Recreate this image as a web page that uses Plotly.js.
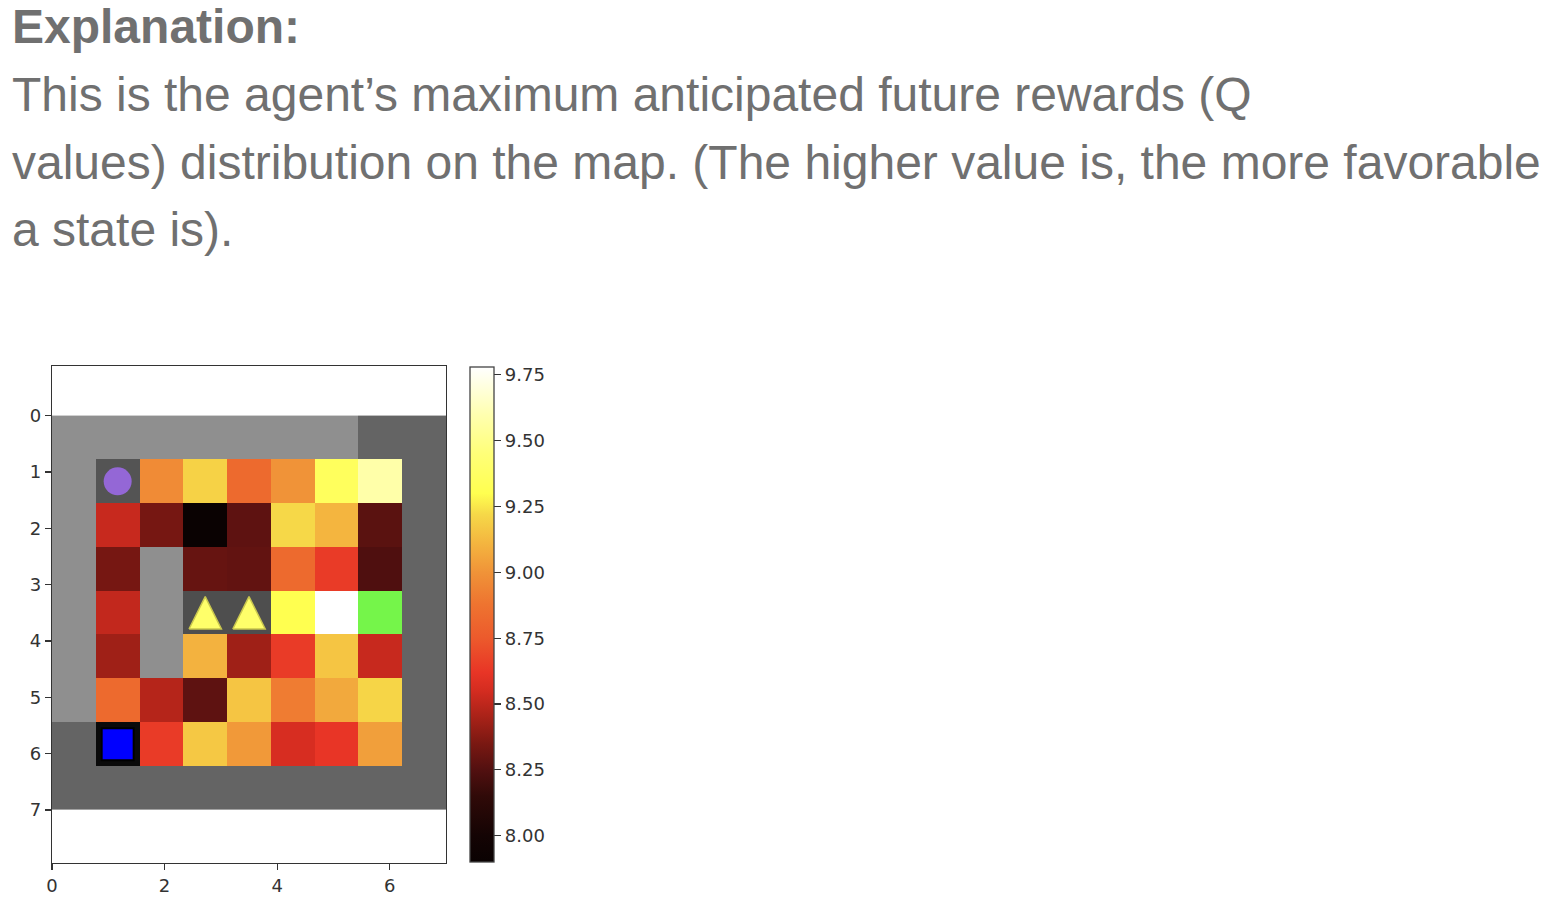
<!DOCTYPE html>
<html>
<head>
<meta charset="utf-8">
<script src="https://cdn.plot.ly/plotly-3.0.1.min.js"></script>
<style>
  html, body { margin: 0; padding: 0; background: #fff; }
  #gd { width: 1548px; height: 914px; }
</style>
</head>
<body>
<div id="gd"></div>
<script>
// map tiles, row by row: W light wall, D dark wall, A agent tile, T trap tile,
// G goal tile, B start tile, . = Q value cell
var tileRows = [
  "WWWWWWWDD",
  "WA......D",
  "W.......D",
  "W.W.....D",
  "W.WTT..GD",
  "W.W.....D",
  "W.......D",
  "DB......D",
  "DDDDDDDDD"
];

// max Q value per cell (null where a tile is drawn instead)
var qValues = [
  [null, null, null, null, null, null, null, null, null],
  [null, null, 8.97, 9.20, 8.83, 9.00, 9.35, 9.58, null],
  [null, 8.52, 8.34, 7.90, 8.28, 9.22, 9.11, 8.27, null],
  [null, 8.34, null, 8.30, 8.29, 8.83, 8.64, 8.24, null],
  [null, 8.51, null, null, null, 9.30, 9.78, null, null],
  [null, 8.43, null, 9.10, 8.43, 8.64, 9.16, 8.52, null],
  [null, 8.83, 8.48, 8.28, 9.16, 8.91, 9.07, 9.21, null],
  [null, null, 8.64, 9.17, 9.02, 8.56, 8.62, 9.04, null],
  [null, null, null, null, null, null, null, null, null]
];

// [row, col] of the objects drawn on top
var agentCells = [[1, 1]];
var trapCells = [[4, 3], [4, 4]];
var startCells = [[7, 1]];

var cbTicks = [8.00, 8.25, 8.50, 8.75, 9.00, 9.25, 9.50, 9.75];
var qMin = 7.90, qMax = 9.78;

// colour stops of the colour bar
var cbStopValues = [7.90, 8.00, 8.15, 8.25, 8.35, 8.45, 8.55, 8.62, 8.75, 8.88, 9.00, 9.12, 9.22, 9.30, 9.45, 9.60, 9.78];
var cbStopColors = ["#0a0202", "#140404", "#300a08", "#521010", "#7a1812", "#a82218", "#d42c20", "#e83526",
                    "#ec5a2c", "#ee7430", "#f09338", "#f4b840", "#f6d848", "#ffff50", "#ffff78", "#ffffb0", "#ffffff"];

var tileCode = { W: 1, D: 2, A: 3, T: 4, G: 5, B: 6 };
var tileColors = ["#8f8f8f", "#646464", "#545454", "#4e4e4e", "#75f54a", "#0a0a0a"];

var N = tileRows.length;
var EXTENT = 7;
var CELL = EXTENT / N;

var tileZ = tileRows.map(function (r) {
  return r.split("").map(function (ch) { return tileCode[ch] !== undefined ? tileCode[ch] : null; });
});

// discrete colour scale for tile codes 1..6
var tileScale = [];
tileColors.forEach(function (c, i) {
  var lo = i === 0 ? 0 : (i - 0.5) / (tileColors.length - 1);
  var hi = i === tileColors.length - 1 ? 1 : (i + 0.5) / (tileColors.length - 1);
  tileScale.push([lo, c]);
  tileScale.push([hi, c]);
});

var heatScale = cbStopValues.map(function (v, i) {
  return [(v - qMin) / (qMax - qMin), cbStopColors[i]];
});

function centers(cells, idx) {
  return cells.map(function (rc) { return (rc[idx] + 0.5) * CELL; });
}

// triangle outlines (fractions of a cell), one polygon per trap cell
var triHalfW = 0.37, triTop = -0.37, triBase = 0.37;
var triX = [], triY = [];
trapCells.forEach(function (rc) {
  var cx = (rc[1] + 0.5) * CELL, cy = (rc[0] + 0.5) * CELL;
  triX.push(cx - triHalfW * CELL, cx + triHalfW * CELL, cx, cx - triHalfW * CELL, null);
  triY.push(cy + triBase * CELL, cy + triBase * CELL, cy + triTop * CELL, cy + triBase * CELL, null);
});

var tickFont = { family: "DejaVu Sans", size: 18, color: "#333333" };

var traces = [
  {
    type: "heatmap",
    z: tileZ,
    x0: CELL / 2, dx: CELL,
    y0: CELL / 2, dy: CELL,
    colorscale: tileScale,
    zmin: 1, zmax: 6,
    showscale: false,
    hoverinfo: "skip"
  },
  {
    type: "heatmap",
    z: qValues,
    x0: CELL / 2, dx: CELL,
    y0: CELL / 2, dy: CELL,
    colorscale: heatScale,
    zmin: qMin, zmax: qMax,
    hoverongaps: false,
    colorbar: {
      x: 470 / 1548, xanchor: "left", xref: "paper",
      y: (914 - 614.5) / 914, yanchor: "middle", yref: "paper",
      len: 495 / 914, lenmode: "fraction",
      thickness: 24, thicknessmode: "pixels",
      xpad: 0, ypad: 0,
      outlinewidth: 1.3, outlinecolor: "#444444",
      ticks: "outside", ticklen: 7, tickwidth: 1.2, tickcolor: "#333333",
      tickvals: cbTicks, tickformat: ".2f",
      tickfont: { family: "DejaVu Sans", size: 18, color: "#333333" }
    }
  },
  {
    type: "scatter", mode: "markers",
    x: centers(agentCells, 1), y: centers(agentCells, 0),
    marker: { symbol: "circle", size: 28, color: "#9467d6", line: { width: 0 } },
    hoverinfo: "skip"
  },
  {
    type: "scatter", mode: "lines",
    x: triX, y: triY,
    fill: "toself", fillcolor: "#ffff6a",
    line: { width: 1.5, color: "#c9c64e" },
    hoverinfo: "skip"
  },
  {
    type: "scatter", mode: "markers",
    x: centers(startCells, 1), y: centers(startCells, 0),
    marker: { symbol: "square", size: 32, color: "#0000ff", line: { width: 2, color: "#000000" } },
    hoverinfo: "skip"
  }
];

var textColor = "#707070";
var textFont = "Liberation Sans, Arial, Helvetica, sans-serif";
var paragraph = [
  "This is the agent\u2019s maximum anticipated future rewards (Q",
  "values) distribution on the map. (The higher value is, the more favorable",
  "a state is)."
];
var lineCenters = [94, 162, 230];

var annotations = [{
  xref: "paper", yref: "paper", x: 10 / 1548, y: 1 - 26 / 914,
  xanchor: "left", yanchor: "middle", showarrow: false,
  text: "<b>Explanation:</b>",
  font: { family: textFont, size: 48, color: textColor }
}];
paragraph.forEach(function (line, i) {
  annotations.push({
    xref: "paper", yref: "paper", x: 10 / 1548, y: 1 - lineCenters[i] / 914,
    xanchor: "left", yanchor: "middle", showarrow: false,
    text: line,
    font: { family: textFont, size: 48, color: textColor }
  });
});

var layout = {
  width: 1548, height: 914,
  margin: { l: 0, r: 0, t: 0, b: 0, pad: 0 },
  paper_bgcolor: "#ffffff", plot_bgcolor: "#ffffff",
  showlegend: false,
  xaxis: {
    domain: [52 / 1548, 446 / 1548],
    range: [0, EXTENT],
    tickvals: [0, 2, 4, 6],
    ticks: "outside", ticklen: 6, tickwidth: 1.2, tickcolor: "#333333",
    tickfont: tickFont,
    showgrid: false, zeroline: false,
    showline: true, mirror: true, linecolor: "#333333", linewidth: 1.3,
    automargin: false, fixedrange: true
  },
  yaxis: {
    domain: [(914 - 863) / 914, (914 - 366) / 914],
    range: [7.94, -0.88],
    tickvals: [0, 1, 2, 3, 4, 5, 6, 7],
    ticks: "outside", ticklen: 6, tickwidth: 1.2, tickcolor: "#333333",
    tickfont: tickFont,
    showgrid: false, zeroline: false,
    showline: true, mirror: true, linecolor: "#333333", linewidth: 1.3,
    automargin: false, fixedrange: true
  },
  annotations: annotations
};

Plotly.newPlot("gd", traces, layout, { displayModeBar: false, staticPlot: true });
</script>
</body>
</html>
